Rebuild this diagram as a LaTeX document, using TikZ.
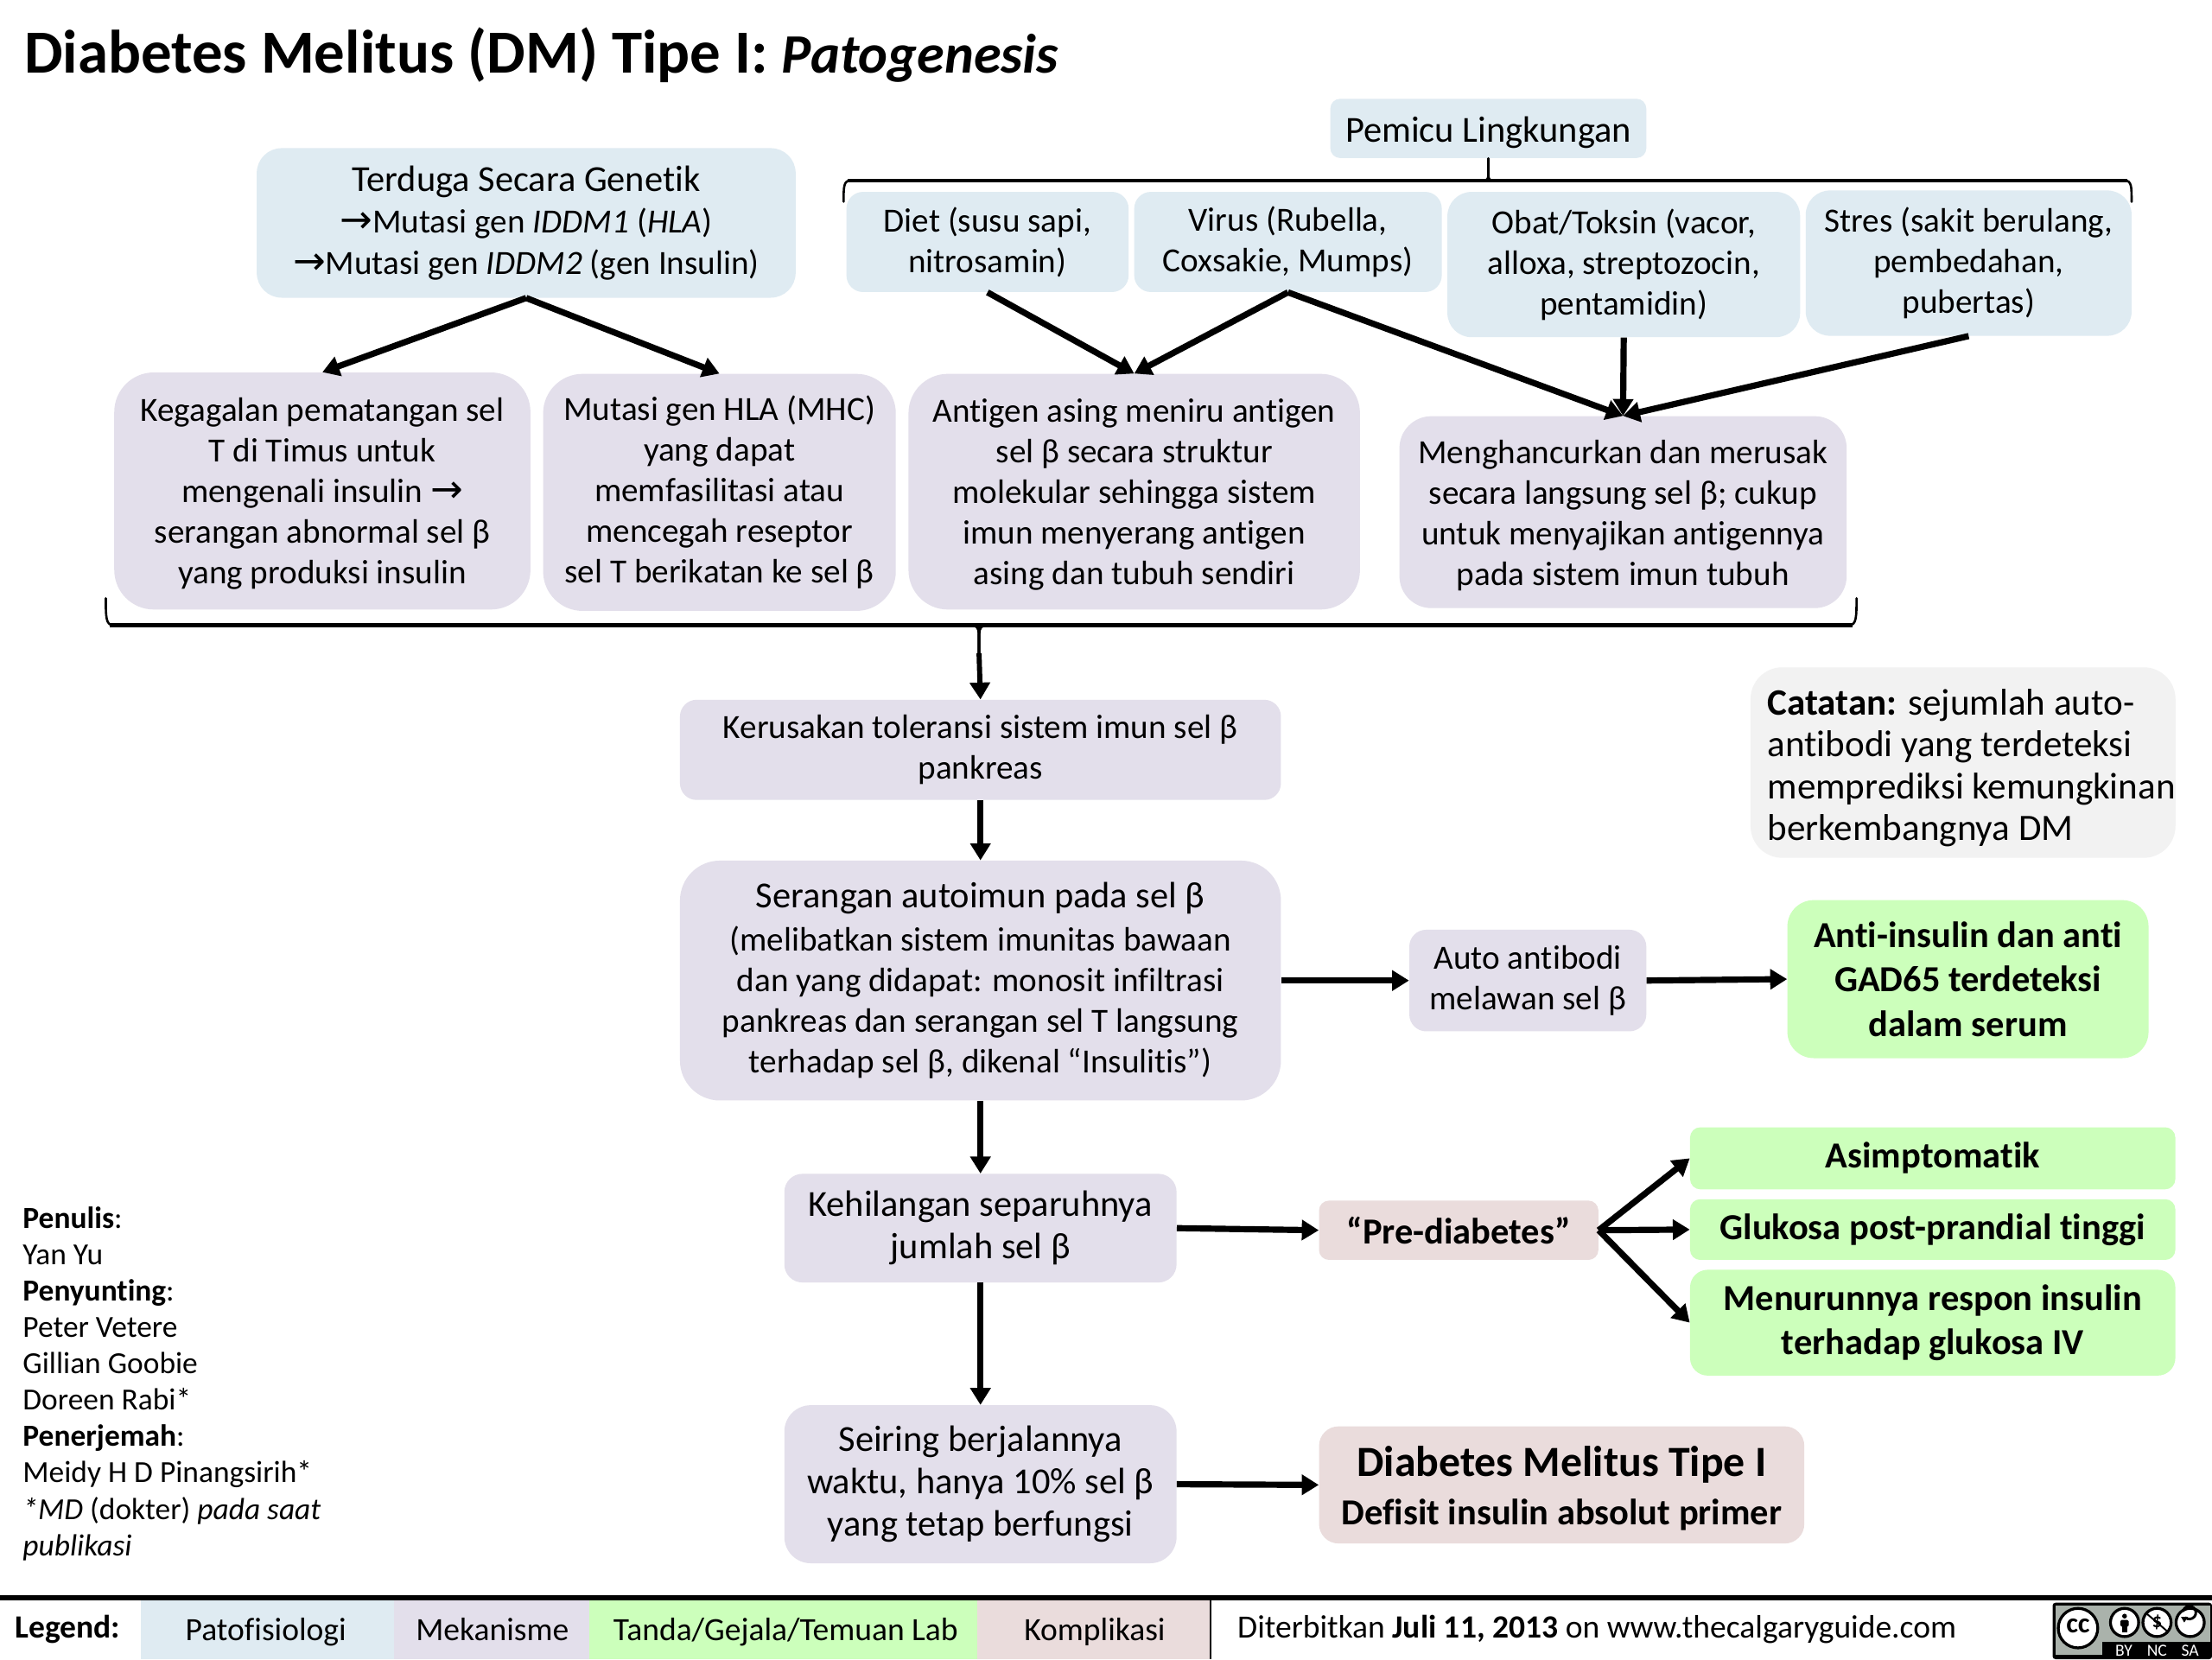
\documentclass[tikz,border=0pt]{standalone}
\usepackage{fontspec}
\setmainfont[Ligatures=NoCommon]{Carlito}
\newfontfamily\djv{DejaVu Sans}
\usetikzlibrary{arrows.meta}
\definecolor{cblue}{HTML}{DFEBF2}
\definecolor{cpurple}{HTML}{E3DFEB}
\definecolor{cgreen}{HTML}{CCFFBB}
\definecolor{cpink}{HTML}{EADCDC}
\definecolor{cgray}{HTML}{F2F2F2}
\definecolor{cclogo}{HTML}{AAB2AB}
\tikzset{
  x=1pt,y=-1pt,
  boxn/.style={inner sep=0pt,align=center,text=black},
  blue box/.style={boxn,fill=cblue},
  purple box/.style={boxn,fill=cpurple},
  green box/.style={boxn,fill=cgreen,font=\fontsize{26}{31.5}\selectfont\bfseries},
  pink box/.style={boxn,fill=cpink},
  gray box/.style={boxn,fill=cgray},
  conn/.style={line width=4.4pt,-{Triangle[length=12pt,width=14pt]}},
  bracket/.style={line width=3pt},
  bracket end/.style={line width=1.6pt,line cap=round},
  f23/.style={font=\fontsize{24}{28.8}\selectfont},
  f25/.style={font=\fontsize{26}{30}\selectfont},
}
\newcommand\bx[7]{%
  \pgfmathsetmacro\rr{min(#4-#2,#5-#3)/6}%
  \pgfmathsetmacro\ww{#4-#2}\pgfmathsetmacro\hh{#5-#3}%
  \pgfmathsetmacro\cx{(#2+#4)/2}\pgfmathsetmacro\cy{(#3+#5)/2}%
  \node[#6,rounded corners=\rr pt,minimum width=\ww pt,minimum height=\hh pt] (#1) at (\cx,\cy) {#7};}
\newcommand\arr{\scalebox{1.15}{\djv\char"2192}}
\newcommand\pd{\hspace*{12pt}}
\begin{document}
\begin{tikzpicture}
\useasboundingbox (0,0) rectangle (1568,1176);
\fill[white] (0,0) rectangle (1568,1176);
\node[anchor=base west,inner sep=0pt,font=\fontsize{43.4}{46}\selectfont\bfseries] (title) at (17,52) {Diabetes Melitus (DM) Tipe I: {\fontsize{39.4}{46}\selectfont\textit{Patogenesis}}};

% top row
\bx{genetik}{182}{105}{564}{211}{blue box,font=\fontsize{24}{29.5}\selectfont}{{\fontsize{26}{30}\selectfont Terduga Secara Genetik}\\\arr Mutasi gen \textit{IDDM1} (\textit{HLA})\\\arr Mutasi gen \textit{IDDM2} (gen Insulin)}
\bx{pemicu}{943}{70}{1167}{112}{blue box,f25}{\rule{0pt}{24pt}Pemicu Lingkungan}
\bx{diet}{600}{136}{800}{207}{blue box,f23}{Diet (susu sapi,\\nitrosamin)}
\bx{virus}{804}{136}{1022}{207}{blue box,f23}{Virus (Rubella,\\Coxsakie, Mumps)}
\bx{obat}{1026}{136}{1276}{239}{blue box,f23}{Obat/Toksin (vacor,\\alloxa, streptozocin,\\pentamidin)}
\bx{stres}{1280}{135}{1511}{238}{blue box,f23}{Stres (sakit berulang,\\pembedahan,\\pubertas)}

% second row
\bx{gagal}{81}{264}{376}{432}{purple box,f23}{\rule{0pt}{21pt}Kegagalan pematangan sel\\T di Timus untuk\\mengenali insulin \arr\\serangan abnormal sel β\\yang produksi insulin}
\bx{hla}{385}{265}{635}{433}{purple box,f23}{Mutasi gen HLA (MHC)\\yang dapat\\memfasilitasi atau\\mencegah reseptor\\sel T berikatan ke sel β}
\bx{antigen}{644}{265}{964}{432}{purple box,f23}{\rule{0pt}{21pt}Antigen asing meniru antigen\\sel β secara struktur\\molekular sehingga sistem\\imun menyerang antigen\\asing dan tubuh sendiri}
\bx{hancur}{992}{295}{1309}{431}{purple box,f23}{\rule{0pt}{21pt}Menghancurkan dan merusak\\secara langsung sel β; cukup\\untuk menyajikan antigennya\\pada sistem imun tubuh}

% centre column
\bx{rusak}{482}{496}{908}{567}{purple box,f23}{Kerusakan toleransi sistem imun sel β\\pankreas}
\bx{serang}{482}{610}{908}{780}{purple box,f23}{{\fontsize{26}{30}\selectfont Serangan autoimun pada sel β}\\[1.5pt](melibatkan sistem imunitas bawaan\\dan yang didapat: monosit infiltrasi\\pankreas dan serangan sel T langsung\\terhadap sel β, dikenal “Insulitis”)}
\bx{hilang}{556}{832}{834}{909}{purple box,f25}{Kehilangan separuhnya\\jumlah sel β}
\bx{seiring}{556}{996}{834}{1108}{purple box,f25}{Seiring berjalannya\\waktu, hanya 10\% sel β\\yang tetap berfungsi}

% right column
\bx{catatan}{1241}{473}{1542}{608}{gray box,font=\fontsize{26.4}{29.5}\selectfont,align=left}{\rule{0pt}{26pt}\pd\textbf{Catatan:} sejumlah auto-\\\pd antibodi yang terdeteksi\\\pd memprediksi kemungkinan\\\pd berkembangnya DM}
\bx{auto}{999}{659}{1167}{731}{purple box,f23}{Auto antibodi\\melawan sel β}
\bx{anti}{1267}{638}{1523}{750}{green box}{Anti-insulin dan anti\\GAD65 terdeteksi\\dalam serum}
\bx{asim}{1198}{799}{1542}{843}{green box}{Asimptomatik}
\bx{gluk}{1198}{850}{1542}{893}{green box}{Glukosa post-prandial tinggi}
\bx{turun}{1198}{900}{1542}{975}{green box}{Menurunnya respon insulin\\terhadap glukosa IV}
\bx{pre}{935}{851}{1133}{893}{pink box,font=\fontsize{26}{30}\selectfont\bfseries}{“Pre-diabetes”}
\bx{dm}{935}{1011}{1279}{1094}{pink box,font=\fontsize{26}{34}\selectfont\bfseries}{\rule{0pt}{26pt}{\fontsize{30.5}{34}\selectfont Diabetes Melitus Tipe I}\\Defisit insulin absolut primer}

% authors
\node[anchor=north west,inner sep=0pt,align=left,font=\fontsize{21.7}{25.8}\selectfont] (penulis) at (16,855) {\textbf{Penulis}:\\Yan Yu\\\textbf{Penyunting}:\\Peter Vetere\\Gillian Goobie\\Doreen Rabi*\\\textbf{Penerjemah}:\\Meidy H D Pinangsirih*\\\textit{*MD} (dokter) \textit{pada saat}\\\textit{publikasi}};

% brackets
\coordinate (tb) at (1055,128);
\coordinate (bt) at (694,443);
\coordinate (bb) at (694,463);
\draw[bracket] (601,128) -- (1508,128);
\draw[bracket end] (598,143) .. controls (598,132) and (598,128) .. (603,128);
\draw[bracket end] (1511,143) .. controls (1511,132) and (1511,128) .. (1506,128);
\draw[bracket end] (pemicu.south) -- ([yshift=4pt]pemicu.south|-tb) .. controls ([yshift=1pt]pemicu.south|-tb) and (1056,128) .. (1059,128);
\draw[bracket end] ([yshift=4pt]pemicu.south|-tb) .. controls ([yshift=1pt]pemicu.south|-tb) and (1054,128) .. (1051,128);
\draw[bracket] (78,443) -- (1313,443);
\draw[bracket end] (75,424) .. controls (75,437) and (75,443) .. (80,443);
\draw[bracket end] (1316,424) .. controls (1316,437) and (1316,443) .. (1311,443);
\draw[bracket end,line width=2pt] (bb) -- (694,449) .. controls (694,445) and (692,443) .. (689,443);
\draw[bracket end,line width=2pt] (bb) -- (694,449) .. controls (694,445) and (696,443) .. (699,443);

% connectors
\draw[conn] (genetik.south) -- (gagal.north);
\draw[conn] (genetik.south) -- (hla.north);
\draw[conn] (diet.south) -- (antigen.north);
\draw[conn] (virus.south) -- (antigen.north);
\draw[conn] (virus.south) -- (hancur.north);
\draw[conn] (obat.south) -- (hancur.north);
\draw[conn] (stres.south) -- (hancur.north);
\draw[conn,line width=3.6pt] (bb) -- (rusak.north);
\draw[conn] (rusak.south) -- (serang.north);
\draw[conn] (serang.south) -- (hilang.north);
\draw[conn] (hilang.south) -- (seiring.north);
\draw[conn] (serang.east) -- (auto.west);
\draw[conn] (auto.east) -- (anti.west);
\draw[conn] (hilang.east) -- (pre.west);
\draw[conn] (seiring.east) -- (dm.west);
\draw[conn] (pre.east) -- (asim.west);
\draw[conn] (pre.east) -- (gluk.west);
\draw[conn] (pre.east) -- (turun.west);

% footer
\fill[cblue] (100,1134) rectangle (279,1176);
\fill[cpurple] (279,1134) rectangle (418,1176);
\fill[cgreen] (418,1134) rectangle (693,1176);
\fill[cpink] (693,1134) rectangle (858,1176);
\draw[line width=3.5pt] (0,1132.5) -- (1568,1132.5);
\draw[line width=1.5pt] (858,1134) -- (858,1176);
\tikzset{foot/.style={inner sep=0pt,font=\fontsize{23}{28}\selectfont,anchor=base}}
\node[foot,font=\fontsize{23}{28}\selectfont\bfseries] (leg) at (48,1161) {Legend:};
\node[foot] (l1) at (188.5,1163) {Patofisiologi};
\node[foot] (l2) at (349,1163) {Mekanisme};
\node[foot] (l3) at (557,1163) {Tanda/Gejala/Temuan Lab};
\node[foot] (l4) at (776,1163) {Komplikasi};
\node[foot,anchor=base west] (pub) at (877,1161) {Diterbitkan \textbf{Juli 11, 2013} on www.thecalgaryguide.com};

% licence badge
\fill[black,rounded corners=2pt] (1455,1136) rectangle (1568,1176);
\fill[cclogo] (1457,1138) rectangle (1567,1164);
\fill[cclogo] (1457,1164) rectangle (1490,1173);
\foreach \nm/\px/\py/\pr in {ccb/1473/1154/14,byb/1506/1150/10,ncb/1529/1150/10,sab/1552.5/1150/10}{
  \draw[fill=white,line width=2pt] (\px,\py) circle (\pr);
}
\node[inner sep=0pt,font=\fontsize{20}{20}\selectfont\bfseries] (cctxt) at (1473,1152.5) {cc};
\fill (1506,1145.5) circle (1.7);
\fill[rounded corners=1pt] (1503,1148.2) rectangle (1509,1153);
\fill (1504.2,1152) rectangle (1507.8,1157);
\node[inner sep=0pt,font=\fontsize{14}{15}\selectfont\bfseries] (nctxt) at (1529,1150) {\$};
\draw[line width=1.2pt] (1522,1144) -- (1536,1156);
\draw[line width=1.8pt] (1549,1146.5) arc[start angle=130,end angle=-170,radius=4.6];
\fill (1546,1146) -- (1551,1146) -- (1548.3,1150) -- cycle;
\node[inner sep=0pt,text=white,font=\fontsize{12}{12}\selectfont] (by) at (1505.5,1170) {BY};
\node[inner sep=0pt,text=white,font=\fontsize{12}{12}\selectfont] (nc) at (1529,1170) {NC};
\node[inner sep=0pt,text=white,font=\fontsize{12}{12}\selectfont] (sa) at (1552.5,1170) {SA};
\end{tikzpicture}
\end{document}
